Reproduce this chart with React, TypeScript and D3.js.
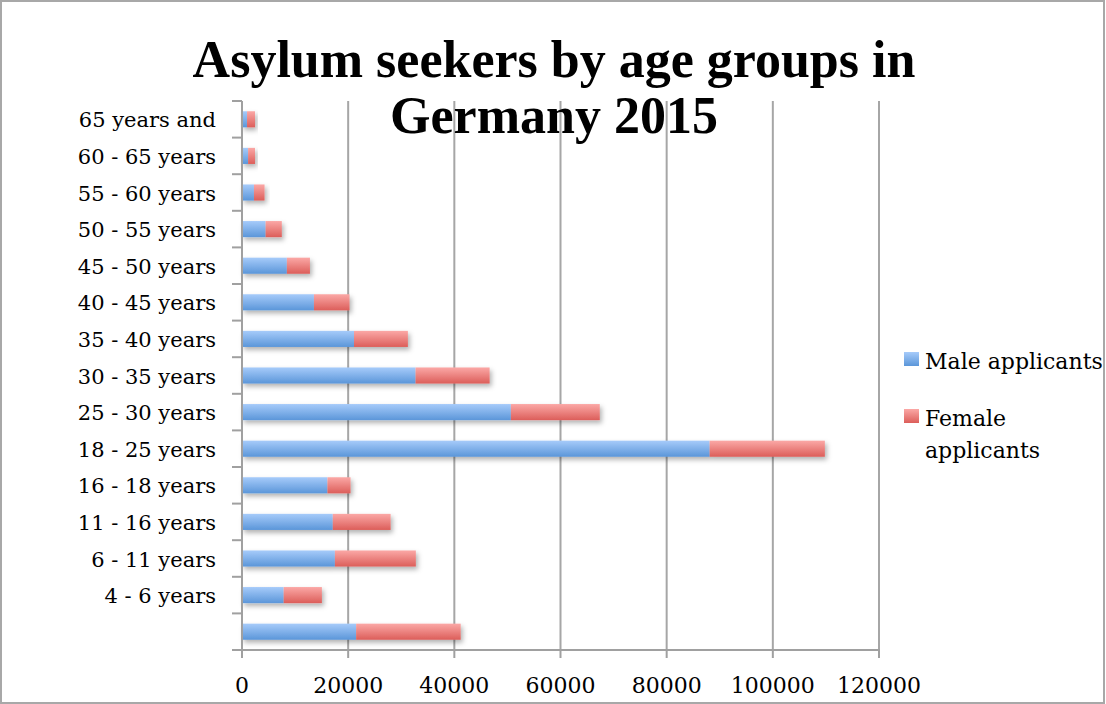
import React, { useRef, useEffect } from "react";
import * as d3 from "d3";

const categories = [
  "",
  "4 - 6 years",
  "6 - 11 years",
  "11 - 16 years",
  "16 - 18 years",
  "18 - 25 years",
  "25 - 30 years",
  "30 - 35 years",
  "35 - 40 years",
  "40 - 45 years",
  "45 - 50 years",
  "50 - 55 years",
  "55 - 60 years",
  "60 - 65 years",
  "65 years and",
];
const maleValues = [21500, 7850, 17500, 17100, 16100, 88100, 50650, 32700, 21100, 13550, 8450, 4450, 2250, 1150, 950];
const femaleValues = [19700, 7200, 15250, 10900, 4350, 21700, 16750, 13950, 10150, 6700, 4350, 3050, 2000, 1300, 1500];
const xTicks = [0, 20000, 40000, 60000, 80000, 100000, 120000];
const seriesNames = ["Male applicants", "Female applicants"];

const W = 1106;
const H = 704;
const FONT = "'DejaVu Serif', serif";
const TITLE_FONT = "'Liberation Serif', serif";

export default function App() {
  const ref = useRef<SVGSVGElement>(null);
  useEffect(() => {
    const svg = d3.select(ref.current);
    svg.selectAll("*").remove();

    const left = 242, right = 879, top = 101, bottom = 650;
    const x = d3.scaleLinear().domain([0, 120000]).range([left, right]);
    const y = d3.scaleBand<string>()
      .domain(categories.map((c, i) => String(i)).reverse())
      .range([top, bottom])
      .paddingInner(0.56)
      .paddingOuter(0.28);

    const defs = svg.append("defs");
    const mkGrad = (id: string, c1: string, c2: string) => {
      const g = defs.append("linearGradient").attr("id", id).attr("x1", 0).attr("y1", 0).attr("x2", 0).attr("y2", 1);
      g.append("stop").attr("offset", "0%").attr("stop-color", c1);
      g.append("stop").attr("offset", "100%").attr("stop-color", c2);
    };
    mkGrad("gMale", "#a6cbfa", "#5b96d9");
    mkGrad("gFemale", "#fba8a6", "#dc5e5a");
    const f = defs.append("filter").attr("id", "shadow").attr("x", "-10%").attr("y", "-30%").attr("width", "130%").attr("height", "200%");
    f.append("feDropShadow").attr("dx", 2).attr("dy", 3).attr("stdDeviation", 2.5).attr("flood-color", "#000").attr("flood-opacity", 0.3);

    // background + border
    svg.append("rect").attr("x", 1).attr("y", 1).attr("width", W - 3).attr("height", H - 2)
      .attr("fill", "#fff").attr("stroke", "#a8a8a8").attr("stroke-width", 2);

    // gridlines
    svg.append("g").selectAll("line").data(xTicks.slice(1)).join("line")
      .attr("x1", d => x(d)).attr("x2", d => x(d)).attr("y1", top).attr("y2", bottom)
      .attr("stroke", "#a6a6a6").attr("stroke-width", 2);

    // bars
    const barG = svg.append("g");
    categories.forEach((c, i) => {
      const yy = y(String(i))!;
      const h = y.bandwidth();
      const m = maleValues[i], fe = femaleValues[i];
      const g = barG.append("g").attr("filter", "url(#shadow)");
      g.append("rect").attr("x", x(0)).attr("y", yy).attr("width", x(m) - x(0)).attr("height", h).attr("fill", "url(#gMale)");
      g.append("rect").attr("x", x(m)).attr("y", yy).attr("width", x(m + fe) - x(m)).attr("height", h).attr("fill", "url(#gFemale)");
    });

    // axes
    const ax = svg.append("g");
    ax.append("line").attr("x1", left).attr("x2", left).attr("y1", top).attr("y2", bottom + 1)
      .attr("stroke", "#a0a0a0").attr("stroke-width", 2);
    ax.append("line").attr("x1", left - 10).attr("x2", right + 1).attr("y1", bottom).attr("y2", bottom)
      .attr("stroke", "#a0a0a0").attr("stroke-width", 2);
    for (let k = 0; k <= categories.length; k++) {
      const ty = bottom - k * ((bottom - top) / categories.length);
      ax.append("line").attr("x1", left - 10).attr("x2", left).attr("y1", ty).attr("y2", ty)
        .attr("stroke", "#a0a0a0").attr("stroke-width", 2);
    }
    xTicks.forEach(t => {
      ax.append("line").attr("x1", x(t)).attr("x2", x(t)).attr("y1", bottom).attr("y2", bottom + 8)
        .attr("stroke", "#a0a0a0").attr("stroke-width", 2);
      ax.append("text").attr("x", x(t)).attr("y", 693).attr("text-anchor", "middle")
        .attr("font-family", FONT).attr("font-size", 22).attr("fill", "#000").text(String(t));
    });
    categories.forEach((c, i) => {
      if (!c) return;
      ax.append("text").attr("x", 216).attr("y", y(String(i))! + y.bandwidth() / 2 + 8)
        .attr("text-anchor", "end").attr("font-family", FONT).attr("font-size", 21).attr("fill", "#000").text(c);
    });

    // title
    const tt = svg.append("text").attr("text-anchor", "middle").attr("font-family", TITLE_FONT)
      .attr("font-weight", "bold").attr("font-size", 52).attr("fill", "#000");
    tt.append("tspan").attr("x", 554).attr("y", 77).text("Asylum seekers by age groups in");
    tt.append("tspan").attr("x", 554).attr("y", 133).text("Germany 2015");

    // legend
    const lg = svg.append("g");
    lg.append("rect").attr("x", 904).attr("y", 352).attr("width", 15).attr("height", 14).attr("fill", "url(#gMale)");
    lg.append("text").attr("x", 925).attr("y", 369).attr("font-family", FONT).attr("font-size", 22).text(seriesNames[0]);
    lg.append("rect").attr("x", 904).attr("y", 409).attr("width", 15).attr("height", 14).attr("fill", "url(#gFemale)");
    const ft = lg.append("text").attr("font-family", FONT).attr("font-size", 22);
    ft.append("tspan").attr("x", 925).attr("y", 426).text("Female");
    ft.append("tspan").attr("x", 925).attr("y", 458).text("applicants");
  }, []);
  return (
    <svg ref={ref} width={W} height={H} style={{ position: "absolute", left: 0, top: 0, display: "block" }} />
  );
}
